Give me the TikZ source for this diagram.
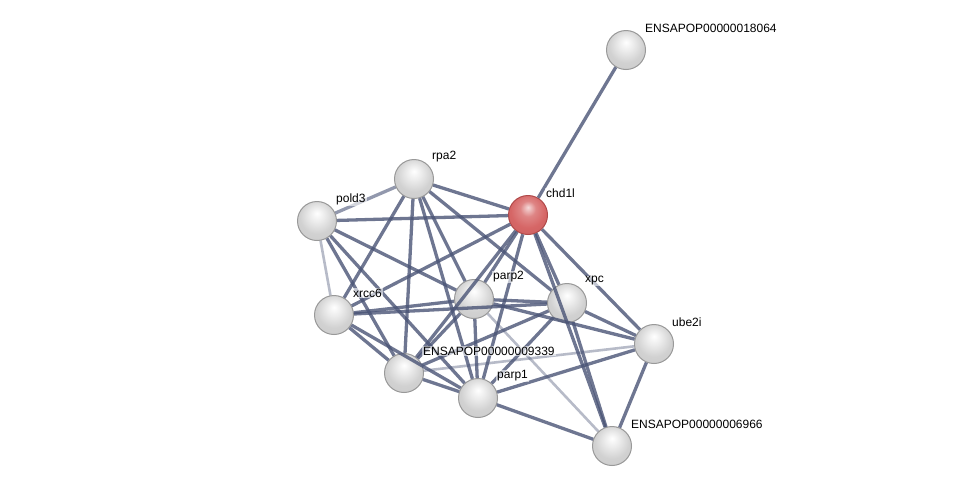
\documentclass[tikz,border=0pt]{standalone}
\usepackage{fontspec}
\setmainfont{Liberation Sans}
\usepackage{tikz}

\definecolor{EdgeBlue}{HTML}{4A5476}
\definecolor{RedBody}{HTML}{D66666}
\definecolor{RedRim}{HTML}{B04A4A}
\pgfdeclareradialshading{graysphere}{\pgfpoint{0bp}{10bp}}{%
  color(0bp)=(white); color(10bp)=(white!92!black); color(22bp)=(white!82!black);
  color(34bp)=(white!80!black); color(42bp)=(white!88!black); color(50bp)=(white!90!black)}
\pgfdeclareradialshading{redsphere}{\pgfpoint{0bp}{10bp}}{%
  color(0bp)=(white!75!RedBody); color(10bp)=(RedBody!80!white); color(22bp)=(RedBody);
  color(34bp)=(RedBody!95!black); color(42bp)=(RedBody!85!white); color(50bp)=(RedBody!80!white)}

\tikzset{
  protein/.style={circle,minimum size=39pt,inner sep=0pt,draw=gray!80,
    line width=1pt,shading=graysphere},
  query/.style={protein,shading=redsphere,draw=RedRim},
  edge/.style={line width=3.3pt,EdgeBlue,draw opacity=0.8},
  weak/.style={line width=2.6pt,EdgeBlue,draw opacity=0.4},
  lbl/.style={anchor=west,inner sep=1pt,fill=white,fill opacity=0.6,text opacity=1,
    font=\fontsize{12}{14}\selectfont}
}

\begin{document}
\begin{tikzpicture}[x=1pt,y=-1pt]
    \useasboundingbox (0,0) rectangle (975,491);

    \node[protein] (e18064) at (626,50) {};
    \node[query]   (chd1l)  at (528,215) {};
    \node[protein] (rpa2)   at (414,179) {};
    \node[protein] (pold3)  at (317,221) {};
    \node[protein] (xrcc6)  at (334,315) {};
    \node[protein] (parp2)  at (474,299) {};
    \node[protein] (xpc)    at (567,303) {};
    \node[protein] (ube2i)  at (654,344) {};
    \node[protein] (e9339)  at (404,373) {};
    \node[protein] (parp1)  at (478,398) {};
    \node[protein] (e6966)  at (612,446) {};

    % interactions
    \draw[edge] (e18064) -- (chd1l);
    \draw[edge,draw opacity=0.6] (rpa2) -- (pold3);
    \draw[edge] (rpa2) -- (chd1l);
    \draw[edge] (rpa2) -- (xrcc6);
    \draw[edge] (rpa2) -- (e9339);
    \draw[edge] (rpa2) -- (parp2);
    \draw[edge] (rpa2) -- (parp1);
    \draw[edge] (rpa2) -- (xpc);
    \draw[edge] (pold3) -- (chd1l);
    \draw[weak] (pold3) -- (xrcc6);
    \draw[edge] (pold3) -- (parp2);
    \draw[edge] (pold3) -- (e9339);
    \draw[edge] (pold3) -- (parp1);
    \draw[edge] (chd1l) -- (xrcc6);
    \draw[edge] (chd1l) -- (parp2);
    \draw[edge] (chd1l) -- (e9339);
    \draw[edge] (chd1l) -- (parp1);
    \draw[edge] (chd1l) -- (xpc);
    \draw[edge] (chd1l) -- (ube2i);
    \draw[edge] (chd1l) -- (e6966);
    \draw[edge] (xrcc6) -- (parp2);
    \draw[edge] (xrcc6) -- (xpc);
    \draw[edge] (xrcc6) -- (e9339);
    \draw[edge] (xrcc6) -- (parp1);
    \draw[edge] (parp2) -- (xpc);
    \draw[edge] (parp2) -- (e9339);
    \draw[edge] (parp2) -- (parp1);
    \draw[edge] (parp2) -- (ube2i);
    \draw[weak] (parp2) -- (e6966);
    \draw[edge] (xpc) -- (e9339);
    \draw[edge] (xpc) -- (parp1);
    \draw[edge] (xpc) -- (ube2i);
    \draw[edge] (xpc) -- (e6966);
    \draw[weak] (ube2i) -- (e9339);
    \draw[edge] (ube2i) -- (parp1);
    \draw[edge] (ube2i) -- (e6966);
    \draw[edge] (e9339) -- (parp1);
    \draw[edge] (parp1) -- (e6966);

    \node[lbl] (t18064) at (644,28)  {ENSAPOP00000018064};
    \node[lbl] (tchd1l) at (545,193) {chd1l};
    \node[lbl] (trpa2)  at (431,157) {rpa2};
    \node[lbl] (tpold3) at (335,199) {pold3};
    \node[lbl] (txrcc6) at (352,293) {xrcc6};
    \node[lbl] (tparp2) at (492,277) {parp2};
    \node[lbl] (txpc)   at (584,281) {xpc};
    \node[lbl] (tube2i) at (671,322) {ube2i};
    \node[lbl] (t9339)  at (422,351) {ENSAPOP00000009339};
    \node[lbl] (tparp1) at (496,376) {parp1};
    \node[lbl] (t6966)  at (630,424) {ENSAPOP00000006966};
\end{tikzpicture}
\end{document}
